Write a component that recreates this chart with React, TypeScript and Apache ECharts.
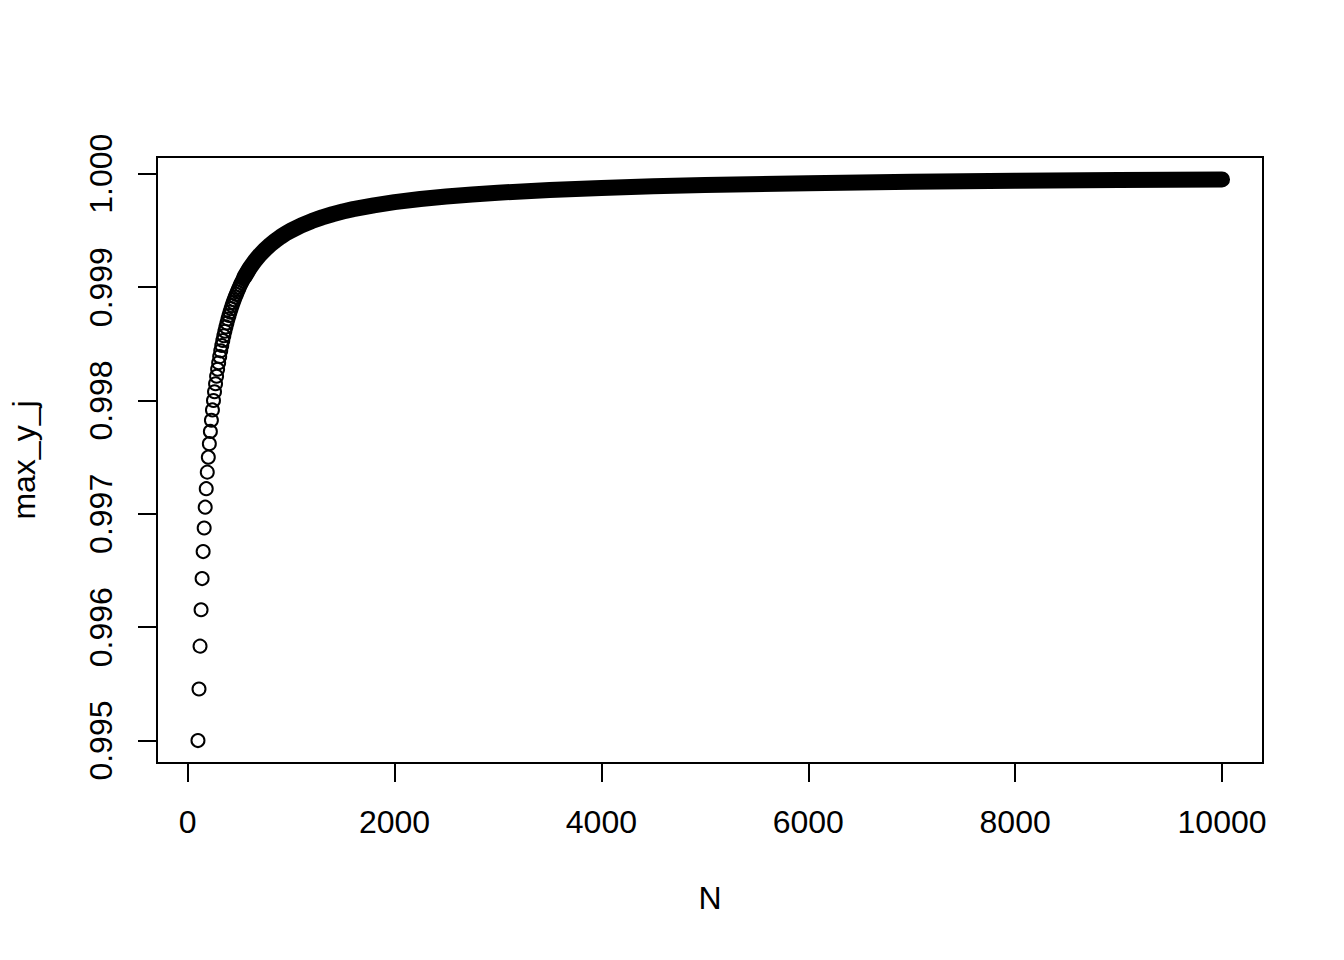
import React, { useEffect, useRef } from "react";
import * as echarts from "echarts";

// Individually distinguishable points (left, steep part of the curve)
const pointN = [
  100, 110, 120, 130, 140, 150, 160, 170, 180, 190,
  200, 210, 220, 230, 240, 250, 260, 270, 280, 290,
  300, 310, 320, 330, 340, 350, 360, 370, 380, 390,
  400, 410, 420, 430, 440, 450, 460, 470, 480, 490,
  500, 510, 520, 530, 540, 550, 560, 570, 580, 590, 600,
];
const pointY = [
  0.995, 0.995455, 0.995833, 0.996154, 0.996429, 0.996667, 0.996875, 0.997059, 0.997222, 0.997368,
  0.9975, 0.997619, 0.997727, 0.997826, 0.997917, 0.998, 0.998077, 0.998148, 0.998214, 0.998276,
  0.998333, 0.998387, 0.998438, 0.998485, 0.998529, 0.998571, 0.998611, 0.998649, 0.998684, 0.998718,
  0.99875, 0.99878, 0.99881, 0.998837, 0.998864, 0.998889, 0.998913, 0.998936, 0.998958, 0.99898,
  0.999, 0.99902, 0.999038, 0.999057, 0.999074, 0.999091, 0.999107, 0.999123, 0.999138, 0.999153, 0.999167,
];

// Dense part where the overlapping circles merge into a solid band
const bandN = [
  550, 600, 650, 700, 750, 800, 850, 900, 950, 1000,
  1100, 1200, 1300, 1400, 1500, 1600, 1800, 2000, 2250, 2500,
  2750, 3000, 3500, 4000, 4500, 5000, 6000, 7000, 8000, 9000, 10000,
];
const bandY = [
  0.999091, 0.999167, 0.999231, 0.999286, 0.999333, 0.999375, 0.999412, 0.999444, 0.999474, 0.9995,
  0.999545, 0.999583, 0.999615, 0.999643, 0.999667, 0.999688, 0.999722, 0.99975, 0.999778, 0.9998,
  0.999818, 0.999833, 0.999857, 0.999875, 0.999889, 0.9999, 0.999917, 0.999929, 0.999938, 0.999944, 0.99995,
];

const xTicks = [0, 2000, 4000, 6000, 8000, 10000];
const yTicks = [0.995, 0.996, 0.997, 0.998, 0.999, 1.0];
const xTitle = "N";
const yTitle = "max_y_j";

const FONT = "Liberation Sans, Arial, Helvetica, sans-serif";

export default function App() {
  const ref = useRef<HTMLDivElement>(null);
  useEffect(() => {
    if (!ref.current) return;
    const chart = echarts.init(ref.current, null, { renderer: "svg" });
    const points = pointN.map((n, i) => [n, pointY[i]]);
    const band = bandN.map((n, i) => [n, bandY[i]]);
    chart.setOption({
      animation: false,
      backgroundColor: "#ffffff",
      grid: {
        left: 157,
        right: 81,
        top: 157,
        bottom: 197,
        show: true,
        borderColor: "#000",
        borderWidth: 2,
        backgroundColor: "transparent",
      },
      xAxis: {
        type: "value",
        min: -296,
        max: 10396,
        name: xTitle,
        nameLocation: "middle",
        nameGap: 119,
        nameTextStyle: { color: "#000", fontSize: 32, fontFamily: FONT },
        axisLine: { show: false, onZero: false },
        splitLine: { show: false },
        axisTick: {
          show: true,
          length: 19,
          lineStyle: { color: "#000", width: 2 },
          customValues: xTicks,
        },
        axisLabel: {
          show: true,
          margin: 43,
          color: "#000",
          fontSize: 32,
          fontFamily: FONT,
          customValues: xTicks,
          formatter: (v: number) => String(v),
        },
      },
      yAxis: {
        type: "value",
        min: 0.994802,
        max: 1.000148,
        name: yTitle,
        nameLocation: "middle",
        nameGap: 117,
        nameRotate: 90,
        nameTextStyle: { color: "#000", fontSize: 32, fontFamily: FONT },
        axisLine: { show: false, onZero: false },
        splitLine: { show: false },
        axisTick: {
          show: true,
          length: 19,
          lineStyle: { color: "#000", width: 2 },
          customValues: yTicks,
        },
        axisLabel: {
          show: true,
          rotate: 90,
          margin: 40,
          color: "#000",
          fontSize: 32,
          fontFamily: FONT,
          customValues: yTicks,
          formatter: (v: number) => v.toFixed(3),
        },
      },
      series: [
        {
          type: "line",
          data: band,
          showSymbol: false,
          symbol: "none",
          lineStyle: { color: "#000", width: 16, cap: "round", join: "round", opacity: 1 },
          silent: true,
          z: 2,
        },
        {
          type: "scatter",
          data: points,
          symbol: "circle",
          symbolSize: 13,
          itemStyle: { color: "transparent", borderColor: "#000", borderWidth: 2, opacity: 1 },
          silent: true,
          z: 3,
        },
      ],
    });
    return () => chart.dispose();
  }, []);
  return (
    <div
      ref={ref}
      style={{ position: "absolute", left: 0, top: 0, width: 1344, height: 960 }}
    />
  );
}
